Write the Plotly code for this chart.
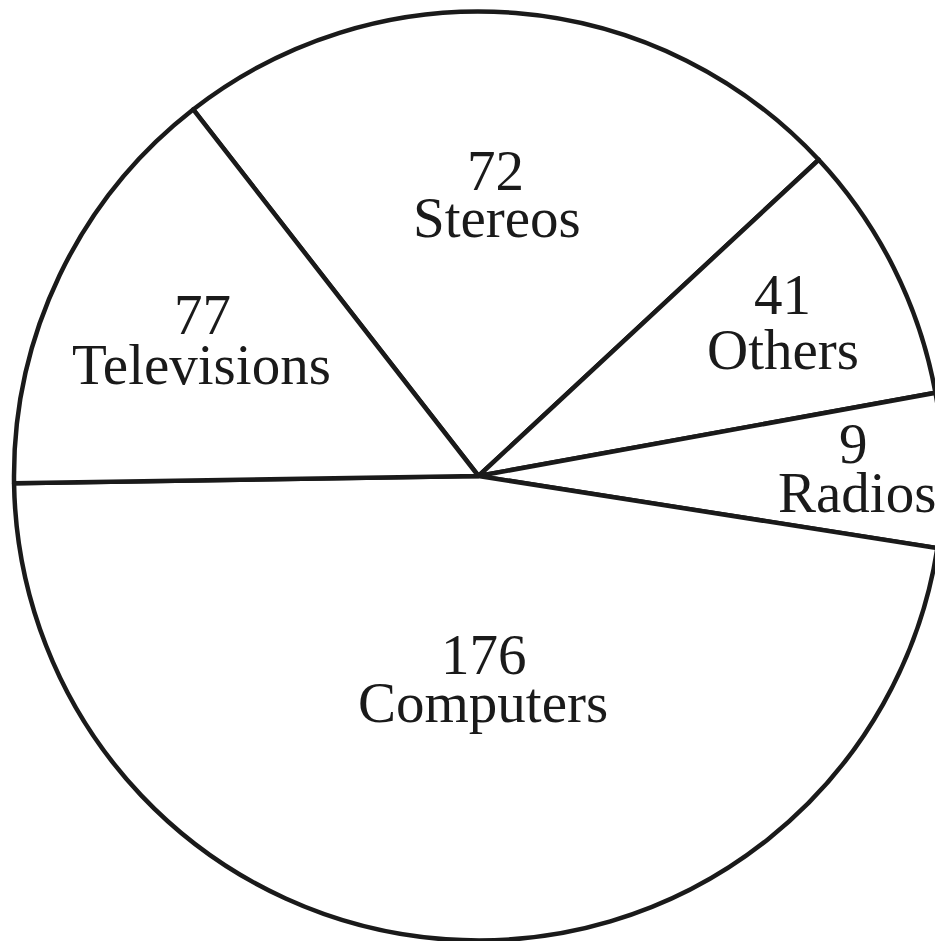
import plotly.graph_objects as go

# Data
categories = ["Stereos", "Others", "Radios", "Computers", "Televisions"]
counts = [72, 41, 9, 176, 77]
# Angular size of each slice as drawn in the picture (degrees)
slice_degrees = [85.0, 32.6, 19.25, 170.2, 53.0]

# Figure size chosen so the page (with the browser's 8px body margin) fits the window
OFF = 8
W, H = 935, 933

# Label centres (window pixels) for the count line and the name line
count_pos = [(495, 170), (782, 295), (853, 443), (484, 654), (202, 314)]
name_pos = [(497, 218), (783, 349), (857, 492), (483, 702), (201, 364)]


def px(x):
    return (x - OFF) / W


def py(y):
    return 1 - (y - OFF) / H


fig = go.Figure(
    go.Pie(
        labels=categories,
        values=slice_degrees,
        sort=False,
        direction="clockwise",
        rotation=-37.9,
        textinfo="none",
        hoverinfo="skip",
        showlegend=False,
        marker=dict(colors=["white"] * len(categories),
                    line=dict(color="#1a1a1a", width=4.5)),
        domain=dict(x=[6 / W, 1.0], y=[0.0, 930 / H]),
    )
)

font = dict(family="Liberation Serif", size=57, color="#1a1a1a")
annotations = []
for c, n, (cx, cy), (nx, ny) in zip(counts, categories, count_pos, name_pos):
    annotations.append(dict(text=str(c), x=px(cx), y=py(cy), xref="paper", yref="paper",
                            xanchor="center", yanchor="middle", showarrow=False, font=font))
    annotations.append(dict(text=n, x=px(nx), y=py(ny), xref="paper", yref="paper",
                            xanchor="center", yanchor="middle", showarrow=False, font=font))

fig.update_layout(
    width=W, height=H,
    margin=dict(l=0, r=0, t=0, b=0),
    paper_bgcolor="white", plot_bgcolor="white",
    annotations=annotations,
)

fig.write_html("out.html")
